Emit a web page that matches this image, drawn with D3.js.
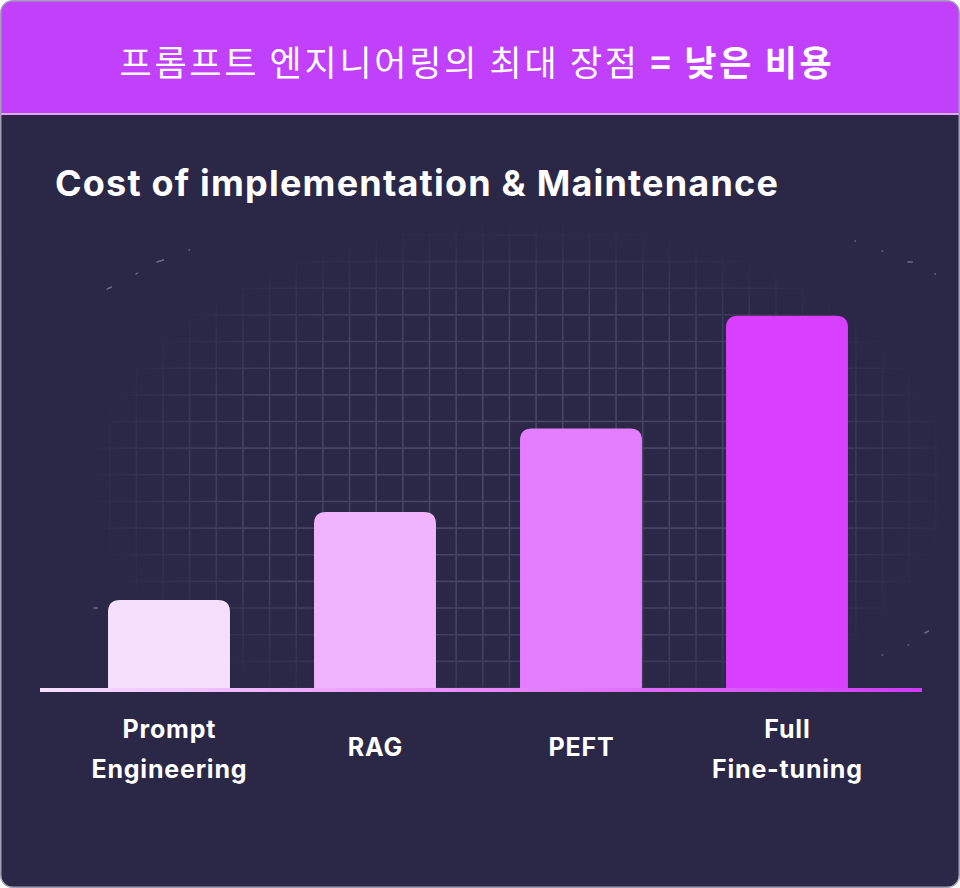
<!DOCTYPE html>
<html>
<head>
<meta charset="utf-8">
<script src="https://cdn.jsdelivr.net/npm/d3@7"></script>
<style>
  body { margin: 0; background: #ffffff; }
  svg { display: block; }
</style>
</head>
<body>
<svg id="chart" width="960" height="888"></svg>
<script>
// chart data
var categories = ["Prompt Engineering", "RAG", "PEFT", "Full Fine-tuning"];
var labelLines = [["Prompt", "Engineering"], ["RAG"], ["PEFT"], ["Full", "Fine-tuning"]];
var costValues = [1, 2, 2.95, 4.23];
var barColors = ["#f6dffd", "#efb4fd", "#e47efe", "#d93ffe"];

var headerPlain = "프롬프트 엔지니어링의 최대 장점 ";
var headerBold = "= 낮은 비용";
var chartTitle = "Cost of implementation & Maintenance";

var W = 960, H = 888;
var baseY = 688;

var svg = d3.select("#chart");
var defs = svg.append("defs");

// card
defs.append("clipPath").attr("id", "cardClip")
    .append("rect").attr("x", 1).attr("y", 1).attr("width", W - 2).attr("height", H - 2)
    .attr("rx", 12);

var card = svg.append("g").attr("clip-path", "url(#cardClip)");
card.append("rect").attr("width", W).attr("height", H).attr("fill", "#2b2746");

// header band
card.append("rect").attr("x", 0).attr("y", 0).attr("width", W).attr("height", 114)
    .attr("fill", "#c040fb");
card.append("rect").attr("x", 0).attr("y", 113).attr("width", W).attr("height", 2)
    .attr("fill", "#dfa8fb");

var head = card.append("text")
    .attr("x", 477).attr("y", 76)
    .attr("text-anchor", "middle")
    .attr("fill", "#ffffff")
    .style("font-family", "'Noto Sans CJK KR', 'Noto Sans', sans-serif")
    .style("font-size", "35px")
    .style("letter-spacing", "2.7px");
head.append("tspan").attr("font-weight", 400).text(headerPlain);
head.append("tspan").attr("font-weight", 700).text(headerBold);

card.append("text")
    .attr("x", 55).attr("y", 196)
    .attr("fill", "#ffffff")
    .style("font-family", "Inter, 'Noto Sans', sans-serif")
    .style("font-size", "36px")
    .style("letter-spacing", "1.2px")
    .style("font-weight", 700)
    .text(chartTitle);

// scales
var x = d3.scaleBand()
    .domain(categories)
    .range([66, 890])
    .paddingInner(0.408)
    .paddingOuter(0.204);

var y = d3.scaleLinear()
    .domain([0, 5])
    .range([baseY, baseY - 440]);

// background grid, faded out towards the edges
var fade = defs.append("radialGradient").attr("id", "gridFade")
    .attr("gradientUnits", "userSpaceOnUse")
    .attr("cx", 520).attr("cy", 480).attr("r", 440)
    .attr("gradientTransform", "translate(520,480) scale(1,0.6) translate(-520,-480)");
fade.append("stop").attr("offset", "0%").attr("stop-color", "#fff").attr("stop-opacity", 1);
fade.append("stop").attr("offset", "65%").attr("stop-color", "#fff").attr("stop-opacity", 0.8);
fade.append("stop").attr("offset", "100%").attr("stop-color", "#fff").attr("stop-opacity", 0);
defs.append("mask").attr("id", "gridMask")
    .append("rect").attr("x", 0).attr("y", 0).attr("width", W).attr("height", H)
    .attr("fill", "url(#gridFade)");

var cell = 26.65;
var gridX = d3.range(163 - 3 * cell, 940, cell);
var gridY = d3.range(baseY, 230, -cell);
var grid = card.append("g").attr("mask", "url(#gridMask)")
    .attr("stroke", "#4c4769").attr("stroke-width", 1.6);
grid.selectAll("line.v").data(gridX).enter().append("line")
    .attr("class", "v")
    .attr("x1", function(d) { return d; }).attr("x2", function(d) { return d; })
    .attr("y1", 225).attr("y2", baseY);
grid.selectAll("line.h").data(gridY).enter().append("line")
    .attr("class", "h")
    .attr("y1", function(d) { return d; }).attr("y2", function(d) { return d; })
    .attr("x1", 80).attr("x2", 940);

// faint dust specks on the rim
var specks = card.append("g").attr("stroke", "#6d6890").attr("stroke-width", 1.5)
    .attr("stroke-linecap", "round");
[[107, 289, 111, 287], [136, 274, 137, 273], [157, 262, 163, 260], [189, 250, 189, 250],
 [855, 241, 855, 241], [882, 251, 882, 251], [908, 262, 912, 262], [935, 274, 935, 274],
 [925, 633, 928, 631], [908, 645, 908, 645], [882, 655, 882, 655], [94, 608, 97, 608]]
    .forEach(function(s) {
        specks.append("line").attr("x1", s[0]).attr("y1", s[1])
            .attr("x2", s[2] + 0.5).attr("y2", s[3]);
    });

// bars: rounded top corners only
function topRounded(x0, y0, w, h, r) {
    r = Math.min(r, h);
    return "M" + x0 + "," + (y0 + h) +
        "V" + (y0 + r) +
        "Q" + x0 + "," + y0 + " " + (x0 + r) + "," + y0 +
        "H" + (x0 + w - r) +
        "Q" + (x0 + w) + "," + y0 + " " + (x0 + w) + "," + (y0 + r) +
        "V" + (y0 + h) + "Z";
}

var rows = categories.map(function(c, i) {
    return { name: c, value: costValues[i], color: barColors[i], lines: labelLines[i] };
});

card.selectAll("path.bar").data(rows).enter().append("path")
    .attr("class", "bar")
    .attr("fill", function(d) { return d.color; })
    .attr("d", function(d) {
        return topRounded(x(d.name), y(d.value), x.bandwidth(), baseY - y(d.value), 12);
    });

// baseline
var axisGrad = defs.append("linearGradient").attr("id", "axisGrad")
    .attr("x1", "0%").attr("x2", "100%");
axisGrad.append("stop").attr("offset", "0%").attr("stop-color", "#f6dffd");
axisGrad.append("stop").attr("offset", "45%").attr("stop-color", "#e892fd");
axisGrad.append("stop").attr("offset", "100%").attr("stop-color", "#cf3bf5");
card.append("rect").attr("x", 40).attr("y", baseY).attr("width", 882).attr("height", 4)
    .attr("fill", "url(#axisGrad)");

// category labels
var labels = card.selectAll("text.cat").data(rows).enter().append("text")
    .attr("class", "cat")
    .attr("text-anchor", "middle")
    .attr("fill", "#ffffff")
    .style("font-family", "Inter, 'Noto Sans', sans-serif")
    .style("font-size", "25px")
    .style("letter-spacing", "0.8px")
    .style("font-weight", 700);
labels.each(function(d) {
    var t = d3.select(this);
    var cx = x(d.name) + x.bandwidth() / 2 + 0.4;
    var startY = d.lines.length > 1 ? 738 : 756;
    d.lines.forEach(function(line, k) {
        t.append("tspan").attr("x", cx).attr("y", startY + k * 40).text(line);
    });
});

// card outline
svg.append("rect").attr("x", 0.75).attr("y", 0.75).attr("width", W - 1.5).attr("height", H - 1.5)
    .attr("rx", 12).attr("fill", "none").attr("stroke", "#a39fb8").attr("stroke-width", 1.5);
</script>
</body>
</html>
